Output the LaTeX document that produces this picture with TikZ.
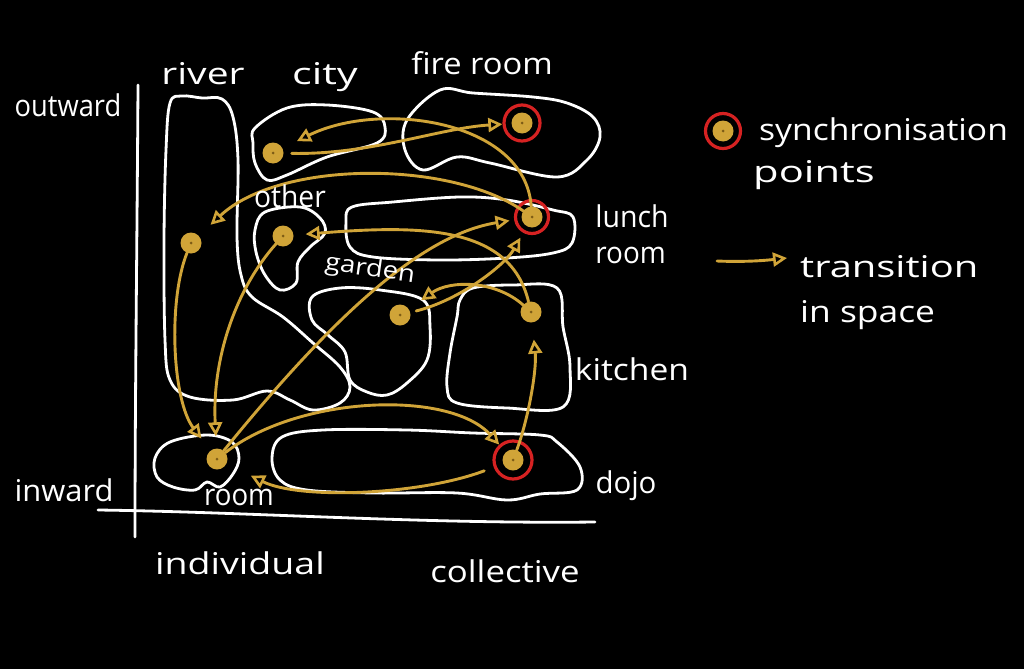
\documentclass[tikz,border=0pt]{standalone}
\usepackage{fontspec}
\usepackage{graphicx}
\setmainfont{Open Sans}
\usetikzlibrary{arrows.meta}
\definecolor{gold}{RGB}{208,164,56}
\definecolor{golddark}{RGB}{125,92,22}
\definecolor{ringred}{RGB}{214,34,34}
\newcommand\wide[2]{\scalebox{#1}[1]{#2}}
\begin{document}
\begin{tikzpicture}[x=1pt,y=-1pt,
 blob/.style={draw=white, line width=2.8pt, line join=round},
 dot/.style={circle, fill=gold, minimum size=21pt, inner sep=0pt,
   path picture={\fill[golddark] (path picture bounding box.center) circle (1.5pt);}},
 ringmark/.style={circle, draw=ringred, line width=3.2pt, minimum size=35pt, inner sep=0pt},
 arr/.style={draw=gold, line width=2.9pt, line cap=round,
   -{Triangle[open, length=14pt, width=14pt, line width=2.6pt]}},
 lbl/.style={text=white, font=\fontsize{30}{36}\selectfont, inner sep=0pt},
 axisline/.style={draw=white, line width=2.8pt, line cap=round}]

\fill[black] (0,0) rectangle (1024,669);
\useasboundingbox (0,0) rectangle (1024,669);

% axes
\coordinate (vtop) at (138,85);
\coordinate (vbot) at (135,537);
\coordinate (hleft) at (98,510);
\coordinate (hright) at (595,522);
\draw[axisline] (vtop) .. controls (137,250) and (135,400) .. (vbot);
\draw[axisline] (hleft) .. controls (250,512) and (420,524) .. (hright);

% regions
\draw[blob] plot[smooth cycle, tension=0.6] coordinates {
 (170,103) (182,96) (202,98) (222,99) (233,117) (238,160) (237,237) (241,275)
 (252,297) (283,317) (313,343) (340,367) (350,387) (340,403) (313,410) (290,400)
 (267,391) (233,400) (190,397) (170,380) (165,340) (164,240) (166,150)};
\draw[blob] plot[smooth cycle, tension=0.6] coordinates {
 (255,128) (287,108) (327,105) (373,112) (385,127) (377,143) (327,157) (287,175)
 (267,180) (255,163) (253,143)};
\draw[blob] plot[smooth cycle, tension=0.6] coordinates {
 (407,120) (440,90) (473,93) (533,97) (567,103) (593,117) (600,137) (587,160)
 (557,177) (490,163) (457,157) (423,170) (405,150)};
\draw[blob] plot[smooth cycle, tension=0.6] coordinates {
 (255,230) (265,212) (300,207) (320,218) (325,233) (310,247) (298,262) (296,283)
 (280,290) (265,275) (256,252)};
\draw[blob] plot[smooth cycle, tension=0.6] coordinates {
 (346,222) (352,207) (393,202) (460,197) (507,200) (553,210) (573,217) (572,243)
 (553,253) (507,258) (440,260) (373,257) (350,247)};
\draw[blob] plot[smooth cycle, tension=0.6] coordinates {
 (312,297) (340,288) (380,290) (423,300) (430,327) (427,360) (407,383) (387,395)
 (367,392) (350,380) (345,352) (328,335) (312,320)};
\draw[blob] plot[smooth cycle, tension=0.6] coordinates {
 (460,300) (473,288) (513,285) (557,288) (563,327) (570,367) (563,407) (507,408)
 (457,403) (447,387) (450,353) (457,317)};
\draw[blob] plot[smooth cycle, tension=0.6] coordinates {
 (155,458) (170,442) (207,435) (232,442) (239,458) (233,474) (220,487) (207,482)
 (195,490) (173,487) (157,477)};
\draw[blob] plot[smooth cycle, tension=0.6] coordinates {
 (272,458) (282,437) (323,430) (407,430) (473,433) (540,435) (557,442) (580,467)
 (577,490) (540,494) (507,500) (457,493) (373,493) (307,490) (280,480)};

% points
\node[dot] (city) at (273,153) {};
\node[dot] (fire) at (522,123) {};
\node[dot] (lunch) at (532,217) {};
\node[dot] (other) at (283,236) {};
\node[dot] (river) at (191,243) {};
\node[dot] (garden) at (400,315) {};
\node[dot] (kitchen) at (531,312) {};
\node[dot] (room) at (217,459) {};
\node[dot] (dojo) at (513,460) {};
\node[ringmark, minimum size=36pt] (firering) at (fire) {};
\node[ringmark, minimum size=33pt] (lunchring) at (lunch) {};
\node[ringmark, minimum size=38pt] (dojoring) at (dojo) {};

% transitions
\draw[arr, shorten <=8pt, shorten >=9pt] (city) .. controls (370,155) and (440,128) .. (fire);
\draw[arr, shorten >=16pt] (lunch) .. controls (525,120) and (380,100) .. (city);
\draw[arr, shorten >=16pt] (lunch) .. controls (450,160) and (280,160) .. (river);
\draw[arr, shorten >=12pt] (kitchen) .. controls (510,225) and (420,225) .. (other);
\draw[arr, shorten >=12pt] (room) .. controls (330,320) and (420,235) .. (lunch);
\draw[arr, shorten <=6pt, shorten >=13pt] (garden) .. controls (460,300) and (505,265) .. (lunch);
\draw[arr, shorten >=15pt] (kitchen) .. controls (495,280) and (450,280) .. (garden);
\draw[arr, shorten >=12pt] (other) .. controls (235,290) and (212,360) .. (room);
\draw[arr, shorten >=15pt] (river) .. controls (168,300) and (172,400) .. (room);
\draw[arr, shorten >=10pt] (room) .. controls (300,395) and (450,390) .. (dojo);
\draw[arr, shorten <=20pt, shorten >=27pt] (dojo) .. controls (420,495) and (300,500) .. (room);
\draw[arr, shorten >=17pt] (dojo) .. controls (528,420) and (537,370) .. (kitchen);

% labels
\node[lbl] (outwardlbl) at (68,105) {\wide{0.91}{outward}};
\node[lbl] (inwardlbl) at (64,490) {\wide{1.03}{inward}};
\node[lbl] (individuallbl) at (240,563) {\wide{1.25}{individual}};
\node[lbl] (collectivelbl) at (505,571) {\wide{1.16}{collective}};
\node[lbl] (riverlbl) at (203,74) {\wide{1.3}{river}};
\node[lbl] (citylbl) at (325,77) {\wide{1.38}{city}};
\node[lbl] (firelbl) at (482,63) {\wide{1.09}{fire room}};
\node[lbl, align=left] (lunchlbl) at (632,234) {\wide{0.95}{lunch}\\\wide{0.93}{room}};
\node[lbl] (otherlbl) at (290,196) {\wide{0.94}{other}};
\node[lbl, font=\fontsize{24}{28}\selectfont, rotate=-8] (gardenlbl) at (370,270) {\wide{1.15}{garden}};
\node[lbl] (kitchenlbl) at (632,369) {\wide{1.12}{kitchen}};
\node[lbl] (roomlbl) at (239,497) {\wide{0.92}{room}};
\node[lbl] (dojolbl) at (626,486) {\wide{0.98}{dojo}};

% legend
\node[dot] (legdot) at (723,131) {};
\node[ringmark] (legring) at (legdot) {};
\node[lbl, anchor=west] (synclbl) at (759,133) {\wide{1.12}{synchronisation}};
\node[lbl, anchor=west] (pointslbl) at (753,175) {\wide{1.39}{points}};
\coordinate (legA) at (717,261);
\coordinate (legB) at (787,258);
\draw[arr] (legA) .. controls (740,262) and (760,261) .. (legB);
\node[lbl, anchor=west] (translbl) at (800,267) {\wide{1.33}{transition}};
\node[lbl, anchor=west] (spacelbl) at (800,315) {\wide{1.18}{in space}};
\end{tikzpicture}
\end{document}
